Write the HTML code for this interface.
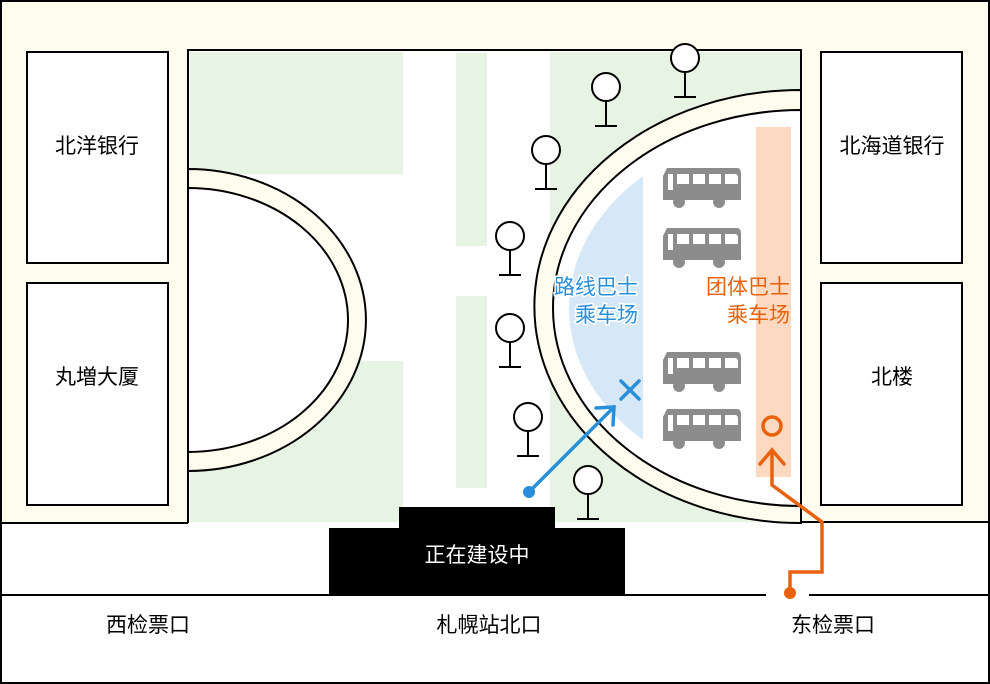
<!DOCTYPE html>
<html><head><meta charset="utf-8"><style>
html,body{margin:0;padding:0;background:#fff}
svg{display:block}
text{font-family:"Liberation Sans","Noto Sans CJK SC",sans-serif}
</style></head><body>
<svg width="990" height="684" viewBox="0 0 990 684" xmlns="http://www.w3.org/2000/svg">
<defs>
<clipPath id="cb"><rect x="0" y="0" width="643" height="684"/></clipPath>
<g id="tree"><circle cx="0" cy="0" r="14" fill="#fff" stroke="#000" stroke-width="2"/><line x1="0" y1="14" x2="0" y2="39" stroke="#000" stroke-width="2"/><line x1="-11" y1="39" x2="11" y2="39" stroke="#000" stroke-width="2"/></g>
<g id="bus" fill="#8c8c8c"><path d="M4 0 H74 Q78 0 78 6 V32 H0 V8 Z"/><circle cx="16" cy="34" r="6"/><circle cx="56" cy="34" r="6"/><rect x="5" y="6" width="5" height="16" fill="#fff"/><rect x="14" y="6" width="12" height="10" fill="#fff"/><rect x="30" y="6" width="12" height="10" fill="#fff"/><rect x="46" y="6" width="12" height="10" fill="#fff"/><path d="M62 6 H72 Q75 6 75 10 V16 H62 Z" fill="#fff"/></g>
</defs>
<rect x="0" y="0" width="990" height="523" fill="#fefbef"/>
<path d="M188 50 H801 V523 H188 Z" fill="#fff"/>
<rect x="190" y="52" width="213" height="122" fill="#e8f4e3"/>
<rect x="190" y="361" width="213" height="161" fill="#e8f4e3"/>
<rect x="456" y="53" width="31" height="193" fill="#e8f4e3"/>
<rect x="456" y="296" width="31" height="192" fill="#e8f4e3"/>
<rect x="550" y="52" width="250" height="470" fill="#e8f4e3"/>
<path d="M188 169 A178 151 0 0 1 188 471 Z" fill="#fefbef" stroke="#000" stroke-width="2"/>
<path d="M188 188 A160 132 0 0 1 188 452 Z" fill="#fff" stroke="#000" stroke-width="2"/>
<path d="M801 90 A266 216 0 0 0 801 523 Z" fill="#fefbef" stroke="#000" stroke-width="2"/>
<path d="M801 110 A248 198 0 0 0 801 506 Z" fill="#fff" stroke="#000" stroke-width="2"/>
<ellipse cx="801" cy="308" rx="232" ry="180" fill="#d6e8f7" clip-path="url(#cb)"/>
<rect x="756" y="127" width="35" height="350" fill="#fdd9c1"/>
<path d="M188 169 V50 H801 V90" fill="none" stroke="#000" stroke-width="2"/>
<path d="M188 471 V523" fill="none" stroke="#000" stroke-width="2"/>
<rect x="802" y="90" width="4" height="432" fill="#fefbef"/>
<line x1="801" y1="110" x2="801" y2="506" stroke="#000" stroke-width="2"/>
<g fill="#fff" stroke="#000" stroke-width="2">
<rect x="27" y="52" width="141" height="211"/>
<rect x="27" y="283" width="141" height="222"/>
<rect x="821" y="52" width="141" height="211"/>
<rect x="821" y="283" width="141" height="222"/>
</g>
<g font-size="21" fill="#000" text-anchor="middle">
<text x="97" y="153">北洋银行</text>
<text x="97" y="384">丸増大厦</text>
<text x="892" y="153">北海道银行</text>
<text x="892" y="384">北楼</text>
</g>
<use href="#tree" x="685" y="58"/>
<use href="#tree" x="606" y="87"/>
<use href="#tree" x="546" y="150"/>
<use href="#tree" x="510" y="236"/>
<use href="#tree" x="510" y="328"/>
<use href="#tree" x="528" y="417"/>
<use href="#tree" x="588" y="480"/>
<use href="#bus" x="663" y="168"/>
<use href="#bus" x="663" y="228"/>
<use href="#bus" x="663" y="352"/>
<use href="#bus" x="663" y="409"/>
<g font-size="21" text-anchor="end" fill="#2a8fdb" stroke="#fff" stroke-width="3" paint-order="stroke">
<text x="638" y="294">路线巴士</text><text x="638" y="322">乘车场</text></g>
<g font-size="21" text-anchor="end" fill="#e8620d">
<text x="790" y="294">团体巴士</text><text x="790" y="322">乘车场</text></g>
<line x1="0" y1="595" x2="766" y2="595" stroke="#000" stroke-width="2"/>
<line x1="809" y1="595" x2="990" y2="595" stroke="#000" stroke-width="2"/>
<line x1="801" y1="522" x2="990" y2="522" stroke="#000" stroke-width="2"/>
<line x1="0" y1="523" x2="188" y2="523" stroke="#000" stroke-width="2"/>
<rect x="399" y="507" width="156" height="22" fill="#000"/>
<rect x="329" y="528" width="296" height="67" fill="#000"/>
<text x="477" y="562" font-size="21" fill="#fff" text-anchor="middle">正在建设中</text>
<g font-size="21" fill="#000" text-anchor="middle">
<text x="148" y="632">西检票口</text>
<text x="489" y="632">札幌站北口</text>
<text x="833" y="632">东检票口</text>
</g>
<g stroke="#2a8fdb" stroke-width="3.5" fill="none" stroke-linecap="round">
<line x1="529" y1="492" x2="614" y2="407"/>
<polyline points="596,408 614,407 613,425"/>
<line x1="621" y1="381" x2="639" y2="399"/><line x1="639" y1="381" x2="621" y2="399"/>
</g>
<circle cx="529" cy="492" r="6" fill="#2a8fdb"/>
<g stroke="#e8620d" stroke-width="3.5" fill="none">
<polyline points="790,593 790,572 822,572 822,522 772,485 772,450"/>
<polyline points="760,464 772,450 784,464" stroke-linecap="round"/>
<circle cx="772" cy="426" r="9"/>
</g>
<circle cx="790" cy="593" r="6" fill="#e8620d"/>
<rect x="1" y="1" width="988" height="682" fill="none" stroke="#000" stroke-width="2"/>
</svg>
</body></html>
